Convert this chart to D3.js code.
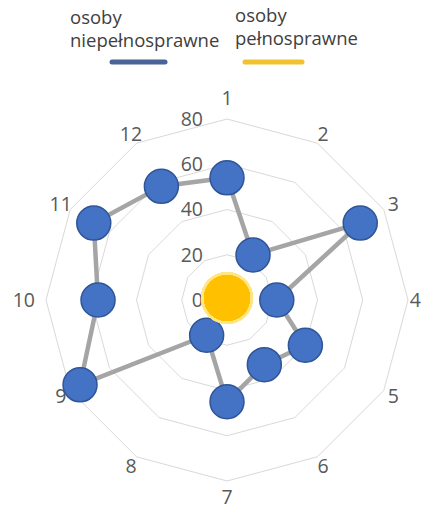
<!DOCTYPE html>
<html>
<head>
<meta charset="utf-8">
<script src="https://cdn.jsdelivr.net/npm/d3@7"></script>
<style>
  html, body { margin: 0; padding: 0; background: #fff; }
  svg { display: block; }
  text { font-family: "Open Sans", "Noto Sans", sans-serif; }
</style>
</head>
<body>
<svg id="chart" width="422" height="511"></svg>
<script>
const categories = ["1","2","3","4","5","6","7","8","9","10","11","12"];
const seriesNames = [["osoby", "niepełnosprawne"], ["osoby", "pełnosprawne"]];
const disabledValues = [54, 23, 68, 22, 40, 33, 45, 18, 75, 57, 68, 58];
const ableValues = [0, 0, 0, 0, 0, 0, 0, 0, 0, 0, 0, 0];
const tickValues = [0, 20, 40, 60, 80];
const gridValues = [20, 40, 60, 80];

const W = 422, H = 511;
const cx = 227, cy = 300, R = 181;
const svg = d3.select("#chart");
const g = svg.append("g").attr("transform", `translate(${cx},${cy})`);

const r = d3.scaleLinear().domain([0, 80]).range([0, R]);
const angle = d3.scalePoint().domain(categories).range([0, 2 * Math.PI * (11 / 12)]);

// grid rings (polygons)
const ringLine = d3.lineRadial()
  .angle(d => angle(d.c))
  .radius(d => r(d.v))
  .curve(d3.curveLinearClosed);

gridValues.forEach(v => {
  g.append("path")
    .attr("d", ringLine(categories.map(c => ({c, v}))))
    .attr("fill", "none")
    .attr("stroke", "#d9d9d9")
    .attr("stroke-width", 1);
});

// tick labels
g.selectAll("text.tick").data(tickValues).join("text")
  .attr("class", "tick")
  .attr("x", -24)
  .attr("y", d => -r(d))
  .attr("dy", "0.35em")
  .attr("text-anchor", "end")
  .attr("font-size", 19.5)
  .attr("fill", "#595959")
  .text(d => d);

// category labels
categories.forEach(c => {
  const a = angle(c);
  const dx = Math.sin(a), dy = -Math.cos(a);
  const t = g.append("text")
    .attr("font-size", 19.5)
    .attr("fill", "#595959")
    .attr("text-anchor", "middle")
    .attr("dy", "0.35em")
    .text(c);
  const bb = t.node().getBBox();
  let extra = 1;
  if (Math.abs(dy) > 0.99) extra = 11;
  else if (Math.abs(dx) > 0.99) extra = bb.width / 2 + 1;
  const base = 191 + extra;
  let x = dx * base;
  let y = dy * base;
  t.attr("x", x).attr("y", y);
  // keep the label inside the picture
  const b2 = t.node().getBBox();
  if (b2.x + b2.width > W - cx - 1) x -= (b2.x + b2.width) - (W - cx - 1);
  if (b2.x < -cx + 1) x += (-cx + 1) - b2.x;
  if (b2.y + b2.height > H - cy - 1) y -= (b2.y + b2.height) - (H - cy - 1);
  t.attr("x", x).attr("y", y);
});

// series line
const seriesLine = d3.lineRadial()
  .angle((d, i) => angle(categories[i]))
  .radius(d => r(d))
  .curve(d3.curveLinearClosed);

g.append("path")
  .attr("d", seriesLine(disabledValues))
  .attr("fill", "none")
  .attr("stroke", "#a5a5a5")
  .attr("stroke-width", 4.5)
  .attr("stroke-linejoin", "round");

const pt = (v, i) => {
  const a = angle(categories[i]);
  return [Math.sin(a) * r(v), -Math.cos(a) * r(v)];
};

g.selectAll("circle.dis").data(disabledValues).join("circle")
  .attr("class", "dis")
  .attr("cx", (d, i) => pt(d, i)[0])
  .attr("cy", (d, i) => pt(d, i)[1])
  .attr("r", 17)
  .attr("fill", "#4472c4")
  .attr("stroke", "#2f5597")
  .attr("stroke-width", 1.5);

// able-bodied series (all zero) with soft glow
g.append("path")
  .attr("d", seriesLine(ableValues))
  .attr("fill", "none")
  .attr("stroke", "#ffc000")
  .attr("stroke-width", 4);

g.selectAll("circle.ableGlow").data(ableValues).join("circle")
  .attr("class", "ableGlow")
  .attr("cx", (d, i) => pt(d, i)[0])
  .attr("cy", (d, i) => pt(d, i)[1] - 2)
  .attr("r", 26)
  .attr("fill", "#ffe680")
  .attr("opacity", 0.35);

g.selectAll("circle.able").data(ableValues).join("circle")
  .attr("class", "able")
  .attr("cx", (d, i) => pt(d, i)[0])
  .attr("cy", (d, i) => pt(d, i)[1] - 2)
  .attr("r", 23)
  .attr("fill", "#ffc000");

// legend
const legend = [
  {x: 70, lines: seriesNames[0], y0: 24, color: "#4a6398", lx1: 112, lx2: 165},
  {x: 235, lines: seriesNames[1], y0: 22, color: "#f2c12e", lx1: 245, lx2: 302}
];
legend.forEach(L => {
  L.lines.forEach((s, i) => {
    svg.append("text")
      .attr("x", L.x)
      .attr("y", L.y0 + i * 23)
      .attr("font-size", 18.5)
      .attr("fill", "#404040")
      .text(s);
  });
  svg.append("line")
    .attr("x1", L.lx1).attr("x2", L.lx2)
    .attr("y1", 62).attr("y2", 62)
    .attr("stroke", L.color)
    .attr("stroke-width", 5)
    .attr("stroke-linecap", "round");
});
</script>
</body>
</html>
